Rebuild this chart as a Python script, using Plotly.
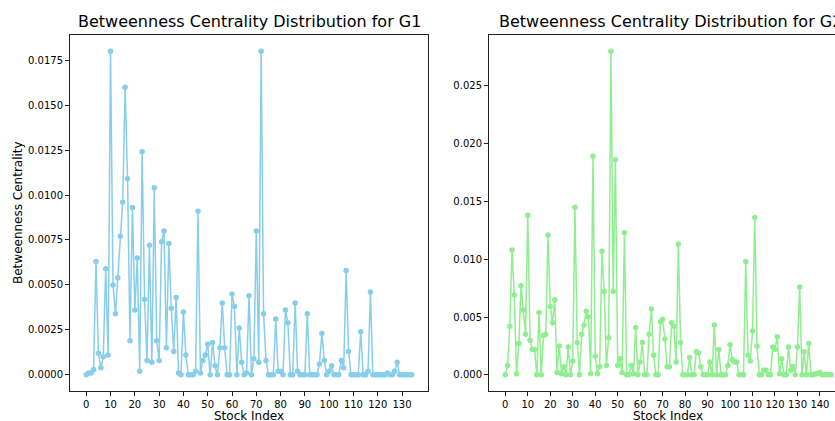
import plotly.graph_objects as go

g1_values = [
    0.0, 0.0001, 0.0001, 0.0003, 0.0063, 0.0012, 0.0004, 0.0010, 0.0059, 0.0011,
    0.0180, 0.0050, 0.0034, 0.0054, 0.0077, 0.0096, 0.0160, 0.0109, 0.0019, 0.0093,
    0.0036, 0.0065, 0.0002, 0.0124, 0.0042, 0.0008, 0.0072, 0.0007, 0.0104, 0.0019,
    0.0008, 0.0074, 0.0080, 0.0015, 0.0073, 0.0037, 0.0013, 0.0043, 0.0001, 0.0,
    0.0035, 0.0011, 0.0, 0.0, 0.0, 0.0002, 0.0091, 0.0001, 0.0008, 0.0011,
    0.0017, 0.0, 0.0018, 0.0005, 0.0, 0.0015, 0.0040, 0.0015, 0.0, 0.0,
    0.0045, 0.0038, 0.0, 0.0026, 0.0007, 0.0, 0.0001, 0.0044, 0.0, 0.0009,
    0.0080, 0.0007, 0.0180, 0.0034, 0.0008, 0.0, 0.0, 0.0, 0.0031, 0.0002,
    0.0002, 0.0, 0.0036, 0.0029, 0.0, 0.0, 0.0040, 0.0002, 0.0, 0.0,
    0.0, 0.0034, 0.0, 0.0, 0.0, 0.0, 0.0006, 0.0023, 0.0008, 0.0,
    0.0002, 0.0005, 0.0, 0.0, 0.0, 0.0008, 0.0004, 0.0058, 0.0013, 0.0,
    0.0, 0.0, 0.0, 0.0024, 0.0, 0.0, 0.0002, 0.0046, 0.0, 0.0,
    0.0, 0.0, 0.0, 0.0, 0.0001, 0.0, 0.0, 0.0002, 0.0007, 0.0,
    0.0, 0.0, 0.0, 0.0, 0.0,
]

g2_values = [
    0.0, 0.0008, 0.0042, 0.0108, 0.0069, 0.0001, 0.0027, 0.0077, 0.0056, 0.0035,
    0.0138, 0.0030, 0.0022, 0.0022, 0.0, 0.0054, 0.0, 0.0034, 0.0035, 0.0121,
    0.0059, 0.0045, 0.0065, 0.0002, 0.0025, 0.0001, 0.0007, 0.0, 0.0024, 0.0,
    0.0012, 0.0145, 0.0028, 0.0, 0.0035, 0.0043, 0.0055, 0.0050, 0.0001, 0.0189,
    0.0016, 0.0001, 0.0007, 0.0107, 0.0072, 0.0008, 0.0032, 0.0280, 0.0072, 0.0186,
    0.0008, 0.0014, 0.0002, 0.0123, 0.0, 0.0, 0.0008, 0.0001, 0.0041, 0.0,
    0.0011, 0.0028, 0.0, 0.0, 0.0035, 0.0057, 0.0017, 0.0, 0.0, 0.0046,
    0.0048, 0.0031, 0.0007, 0.0007, 0.0045, 0.0042, 0.0011, 0.0113, 0.0028, 0.0,
    0.0, 0.0, 0.0015, 0.0, 0.0, 0.0020, 0.0019, 0.0007, 0.0, 0.0,
    0.0, 0.0011, 0.0, 0.0043, 0.0, 0.0022, 0.0, 0.0, 0.0, 0.0008,
    0.0026, 0.0013, 0.0011, 0.0011, 0.0, 0.0, 0.0, 0.0098, 0.0017, 0.0012,
    0.0038, 0.0136, 0.0025, 0.0, 0.0, 0.0004, 0.0004, 0.0, 0.0, 0.0024,
    0.0022, 0.0033, 0.0001, 0.0014, 0.0, 0.0, 0.0024, 0.0004, 0.0007, 0.0,
    0.0024, 0.0076, 0.0, 0.0020, 0.0, 0.0027, 0.0, 0.0, 0.0001, 0.0001,
    0.0002, 0.0, 0.0, 0.0, 0.0, 0.0,
]

g1_index = list(range(len(g1_values)))
g2_index = list(range(len(g2_values)))

g1_xticks = [0, 10, 20, 30, 40, 50, 60, 70, 80, 90, 100, 110, 120, 130]
g2_xticks = [0, 10, 20, 30, 40, 50, 60, 70, 80, 90, 100, 110, 120, 130, 140]

titles = ["Betweenness Centrality Distribution for G1",
          "Betweenness Centrality Distribution for G2"]
x_label = "Stock Index"
y_label = "Betweenness Centrality"
g1_color = "#87CEEB"
g2_color = "#90EE90"

W, H = 835, 421
FONT = "DejaVu Sans"


def fx(p):
    return p / W


def fy(p):
    return 1 - p / H


fig = go.Figure()
fig.add_trace(go.Scatter(
    x=g1_index, y=g1_values, mode="lines+markers",
    line=dict(color=g1_color, width=1.5),
    marker=dict(color=g1_color, size=5.5),
    xaxis="x", yaxis="y", showlegend=False))
fig.add_trace(go.Scatter(
    x=g2_index, y=g2_values, mode="lines+markers",
    line=dict(color=g2_color, width=1.5),
    marker=dict(color=g2_color, size=5.5),
    xaxis="x2", yaxis="y2", showlegend=False))

axis_common = dict(
    showgrid=False, zeroline=False, showline=True, linecolor="#222",
    linewidth=1, ticks="outside", ticklen=4, tickwidth=1, tickcolor="#222",
    tickfont=dict(family=FONT, size=10, color="black"),
)

fig.update_layout(
    width=W, height=H,
    margin=dict(l=0, r=0, t=0, b=0),
    paper_bgcolor="white", plot_bgcolor="white",
    font=dict(family=FONT, color="black"),
    xaxis=dict(domain=[fx(70), fx(428)], range=[-6.7, 140.7],
               tickmode="array", tickvals=g1_xticks, mirror=True,
               anchor="y", **axis_common),
    yaxis=dict(domain=[fy(391), fy(35)], range=[-0.0009, 0.0189],
               tickmode="linear", tick0=0, dtick=0.0025, tickformat=".4f",
               mirror=True, anchor="x", **axis_common),
    xaxis2=dict(domain=[fx(489), 1.0], range=[-7.25, 146.7],
                tickmode="array", tickvals=g2_xticks, mirror=True,
                anchor="y2", **axis_common),
    yaxis2=dict(domain=[fy(391), fy(35)], range=[-0.0014, 0.0294],
                tickmode="linear", tick0=0, dtick=0.005, tickformat=".3f",
                mirror=False, anchor="x2", **axis_common),
)

annotations = [
    dict(text=titles[0], x=fx(249), y=fy(22), xref="paper", yref="paper",
         xanchor="center", yanchor="middle", showarrow=False,
         font=dict(family=FONT, size=16, color="black")),
    dict(text=titles[1], x=fx(670), y=fy(22), xref="paper", yref="paper",
         xanchor="center", yanchor="middle", showarrow=False,
         font=dict(family=FONT, size=16, color="black")),
    dict(text=x_label, x=fx(249), y=fy(416), xref="paper", yref="paper",
         xanchor="center", yanchor="middle", showarrow=False,
         font=dict(family=FONT, size=12, color="black")),
    dict(text=x_label, x=fx(668), y=fy(416), xref="paper", yref="paper",
         xanchor="center", yanchor="middle", showarrow=False,
         font=dict(family=FONT, size=12, color="black")),
    dict(text=y_label, x=fx(18), y=fy(213), xref="paper", yref="paper",
         xanchor="center", yanchor="middle", showarrow=False, textangle=-90,
         font=dict(family=FONT, size=12, color="black")),
]
fig.update_layout(annotations=annotations)

fig.write_html("out.html")
